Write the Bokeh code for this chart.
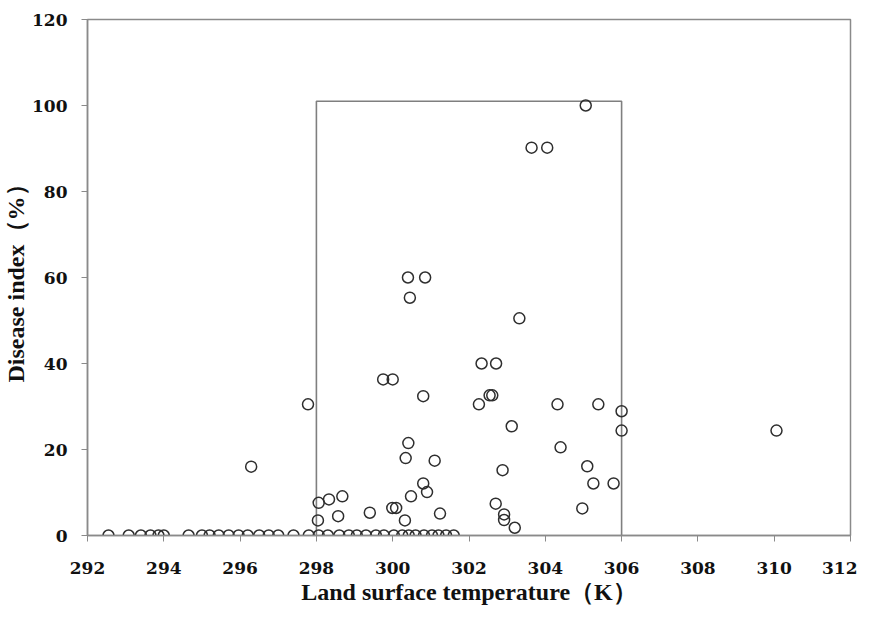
from bokeh.plotting import figure
from bokeh.models import Range1d, FixedTicker
from bokeh.embed import file_html
from bokeh.resources import INLINE

# Zero-valued observations (disease index = 0)
zero_temps = [292.55, 293.08, 293.4, 293.65, 293.86, 294.0, 294.65, 295.0, 295.2, 295.44,
              295.7, 295.96, 296.2, 296.5, 296.75, 297.0, 297.4, 297.8, 298.06, 298.3,
              298.6, 298.85, 299.06, 299.3, 299.56, 299.77, 300.03, 300.25, 300.42, 300.6,
              300.82, 301.03, 301.2, 301.4, 301.6]

# Non-zero observations
nz_temps = [296.29, 297.78, 300.4, 300.85, 300.45, 299.75, 300.0, 300.8, 300.41, 300.34,
            301.1, 300.8, 300.9, 300.48, 298.06, 298.33, 298.68, 298.57, 298.04, 299.4,
            299.99, 300.09, 300.32, 301.24,
            305.06, 303.64, 304.05, 303.32, 302.33, 302.71, 302.54, 302.61, 302.26, 304.32,
            305.39, 306.0, 306.0, 303.12, 304.4, 302.88, 305.1, 305.26, 305.79, 302.7,
            304.97, 302.92, 302.92, 303.2, 310.06]
nz_index = [16.0, 30.5, 60.0, 60.0, 55.3, 36.3, 36.3, 32.4, 21.5, 18.0,
            17.4, 12.1, 10.1, 9.1, 7.6, 8.4, 9.1, 4.5, 3.5, 5.3,
            6.4, 6.4, 3.5, 5.1,
            100.0, 90.2, 90.2, 50.5, 40.0, 40.0, 32.6, 32.6, 30.5, 30.5,
            30.5, 28.9, 24.4, 25.4, 20.5, 15.2, 16.1, 12.1, 12.1, 7.4,
            6.3, 4.9, 3.6, 1.8, 24.4]

temps = zero_temps + nz_temps
index = [0.0] * len(zero_temps) + nz_index

# Suitable range box
box_x = [298, 298, 306, 306]
box_y = [0, 101, 101, 0]

x_ticks = list(range(292, 313, 2))
y_ticks = list(range(0, 121, 20))

p = figure(width=857, height=610, output_backend="svg", toolbar_location=None,
           x_range=Range1d(292, 312), y_range=Range1d(0, 120),
           min_border_left=85, min_border_right=7, min_border_top=19, min_border_bottom=75)

p.line(box_x, box_y, line_color="#7f7f7f", line_width=1.6)
p.scatter(temps, index, marker="circle", size=11, fill_color=None,
          line_color="#2e2e2e", line_width=1.5)

p.xgrid.visible = False
p.ygrid.visible = False
p.outline_line_color = "#8a8a8a"
p.outline_line_width = 1.5

for ax in (p.xaxis[0], p.yaxis[0]):
    ax.axis_line_color = "#8a8a8a"
    ax.axis_line_width = 1.5
    ax.major_tick_line_color = "#8a8a8a"
    ax.major_tick_in = 0
    ax.major_tick_out = 6
    ax.minor_tick_line_color = None
    ax.major_label_text_font = "DejaVu Serif"
    ax.major_label_text_font_style = "bold"
    ax.major_label_text_font_size = "17px"
    ax.major_label_text_color = "#111111"
    ax.axis_label_text_font = "Liberation Serif"
    ax.axis_label_text_font_style = "bold"
    ax.axis_label_text_font_size = "24px"
    ax.axis_label_text_color = "#111111"

p.xaxis[0].ticker = FixedTicker(ticks=x_ticks)
p.yaxis[0].ticker = FixedTicker(ticks=y_ticks)
p.xaxis[0].major_label_standoff = 20
p.yaxis[0].major_label_standoff = 14
p.xaxis[0].axis_label = "Land surface temperature（K）"
p.yaxis[0].axis_label = "Disease index（%）"
p.xaxis[0].axis_label_standoff = 2
p.yaxis[0].axis_label_standoff = 0

open("out.html", "w").write(file_html(p, INLINE))
